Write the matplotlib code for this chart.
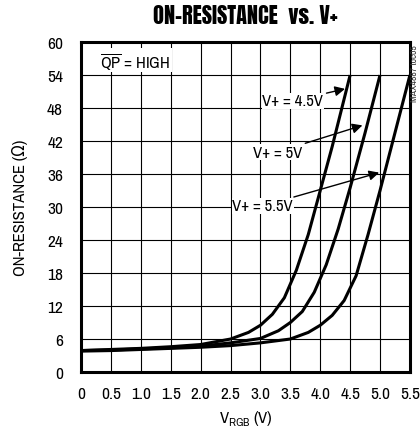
import matplotlib.pyplot as plt
import matplotlib.font_manager as fm

names = {f.name for f in fm.fontManager.ttflist}
narrow = 'DejaVu Sans'
for cand in ['Liberation Sans Narrow', 'Arial Narrow', 'Archivo Narrow', 'Roboto Condensed',
             'PT Sans Narrow', 'Pragati Narrow', 'Open Sans Condensed']:
    if cand in names:
        narrow = cand
        break
heavy = narrow
for cand in ['Anton', 'Oswald', 'Fjalla One', 'Roboto Condensed']:
    if cand in names:
        heavy = cand
        break
plt.rcParams['font.family'] = [narrow, 'DejaVu Sans']
plt.rcParams['font.stretch'] = 'condensed'
plt.rcParams['mathtext.fontset'] = 'custom'
plt.rcParams['mathtext.rm'] = narrow

# data
v45_x = [0, 0.5, 1.0, 1.5, 2.0, 2.5, 2.8, 3.0, 3.2, 3.4, 3.6, 3.8, 4.0, 4.2, 4.5]
v45_y = [3.9, 4.1, 4.3, 4.6, 5.0, 6.0, 7.2, 8.5, 10.5, 13.5, 18.5, 25, 33, 41, 54]

v5_x = [0, 0.5, 1.0, 1.5, 2.0, 2.5, 3.0, 3.3, 3.5, 3.7, 3.9, 4.1, 4.3, 4.5, 4.75, 5.0]
v5_y = [3.9, 4.0, 4.2, 4.4, 4.7, 5.3, 6.1, 7.5, 9.0, 11.0, 14.5, 19.5, 26, 33.5, 43.5, 54]

v55_x = [0, 0.5, 1.0, 1.5, 2.0, 2.5, 3.0, 3.5, 3.8, 4.0, 4.2, 4.4, 4.6, 4.8, 5.0, 5.25, 5.5]
v55_y = [3.8, 3.9, 4.1, 4.3, 4.5, 4.8, 5.3, 6.0, 7.2, 8.5, 10.3, 13, 17.5, 25, 33, 43.5, 54]

x_ticks = [0, 0.5, 1.0, 1.5, 2.0, 2.5, 3.0, 3.5, 4.0, 4.5, 5.0, 5.5]
x_labels = ['0', '0.5', '1.0', '1.5', '2.0', '2.5', '3.0', '3.5', '4.0', '4.5', '5.0', '5.5']
y_ticks = [0, 6, 12, 18, 24, 30, 36, 42, 48, 54, 60]

fig = plt.figure(figsize=(4.2, 4.35), dpi=100)
ax = fig.add_axes([0.193, 0.1425, 0.783, 0.7585])

for xs, ys in [(v45_x, v45_y), (v5_x, v5_y), (v55_x, v55_y)]:
    ax.plot(xs, ys, color='black', lw=2.2, solid_capstyle='butt', zorder=3)

ax.set_xlim(0, 5.5)
ax.set_ylim(0, 60)
ax.set_xticks(x_ticks)
ax.set_xticklabels(x_labels)
ax.set_yticks(y_ticks)
ax.tick_params(axis='y', length=0, labelsize=12.5, pad=13)
ax.tick_params(axis='x', length=0, labelsize=12.5, pad=10)
ax.grid(True, color='black', lw=0.8)
for s in ax.spines.values():
    s.set_linewidth(2.2)

ax.set_title('ON-RESISTANCE  vs. V+', fontsize=16, fontweight='bold', pad=14,
             family=[heavy, 'DejaVu Sans'])
ax.set_ylabel('ON-RESISTANCE (Ω)', fontsize=12, labelpad=14)
ax.set_xlabel('V$_{\\mathrm{RGB}}$ (V)', fontsize=12, labelpad=5)

ax.text(0.32, 56.7, '$\\overline{\\mathrm{QP}}$ = HIGH', fontsize=12, va='center', ha='left',
        bbox=dict(facecolor='white', edgecolor='none', pad=1))

arrow = dict(arrowstyle='-|>', color='black', lw=1.0, mutation_scale=15)
ax.annotate('V+ = 4.5V', xy=(4.46, 51.6), xytext=(3.03, 49.3), fontsize=12,
            ha='left', va='center', arrowprops=arrow,
            bbox=dict(facecolor='white', edgecolor='none', pad=0.5))
ax.annotate('V+ = 5V', xy=(4.75, 45), xytext=(2.87, 40), fontsize=12,
            ha='left', va='center', arrowprops=arrow,
            bbox=dict(facecolor='white', edgecolor='none', pad=0.5))
ax.annotate('V+ = 5.5V', xy=(5.03, 36.4), xytext=(2.53, 30.2), fontsize=12,
            ha='left', va='center', arrowprops=arrow,
            bbox=dict(facecolor='white', edgecolor='none', pad=0.5))

fig.text(0.987, 0.895, 'MAX4887 toc05', rotation=90, fontsize=7, ha='center', va='top', color='#333333')

fig.savefig('out.png', dpi=100)
